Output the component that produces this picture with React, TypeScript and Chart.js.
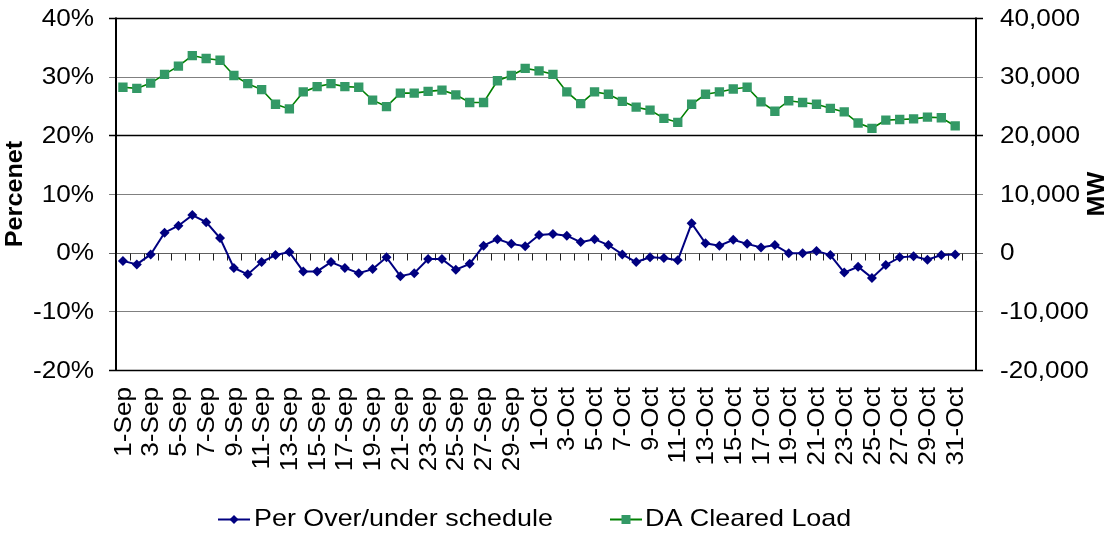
import React, { useEffect, useRef } from 'react';
import { Chart, registerables } from 'chart.js';

Chart.register(...registerables);

const categories = [
  '1-Sep', '2-Sep', '3-Sep', '4-Sep', '5-Sep', '6-Sep', '7-Sep', '8-Sep', '9-Sep', '10-Sep',
  '11-Sep', '12-Sep', '13-Sep', '14-Sep', '15-Sep', '16-Sep', '17-Sep', '18-Sep', '19-Sep', '20-Sep',
  '21-Sep', '22-Sep', '23-Sep', '24-Sep', '25-Sep', '26-Sep', '27-Sep', '28-Sep', '29-Sep', '30-Sep',
  '1-Oct', '2-Oct', '3-Oct', '4-Oct', '5-Oct', '6-Oct', '7-Oct', '8-Oct', '9-Oct', '10-Oct',
  '11-Oct', '12-Oct', '13-Oct', '14-Oct', '15-Oct', '16-Oct', '17-Oct', '18-Oct', '19-Oct', '20-Oct',
  '21-Oct', '22-Oct', '23-Oct', '24-Oct', '25-Oct', '26-Oct', '27-Oct', '28-Oct', '29-Oct', '30-Oct',
  '31-Oct', '1-Nov',
];

const overUnderPct = [
  -1.4, -2.0, -0.3, 3.4, 4.6, 6.4, 5.2, 2.5, -2.6, -3.7,
  -1.6, -0.4, 0.1, -3.2, -3.2, -1.6, -2.6, -3.5, -2.8, -0.8,
  -4.0, -3.5, -1.1, -1.1, -2.9, -1.9, 1.2, 2.3, 1.5, 1.1,
  3.0, 3.2, 2.9, 1.8, 2.3, 1.3, -0.3, -1.6, -0.8, -0.9,
  -1.3, 5.0, 1.6, 1.2, 2.2, 1.5, 0.9, 1.3, -0.1, -0.1,
  0.3, -0.4, -3.4, -2.4, -4.3, -2.1, -0.8, -0.6, -1.2, -0.4,
  -0.3, null,
];

const daClearedLoadMW = [
  28200, 28000, 28900, 30400, 31800, 33600, 33100, 32800, 30200, 28800,
  27800, 25300, 24500, 27400, 28300, 28800, 28300, 28200, 26000, 24900,
  27200, 27200, 27500, 27700, 26900, 25600, 25600, 29300, 30200, 31400,
  31000, 30400, 27400, 25400, 27400, 27000, 25800, 24800, 24300, 22900,
  22200, 25300, 27000, 27400, 27900, 28200, 25700, 24100, 25900, 25600,
  25300, 24600, 24000, 22100, 21200, 22600, 22700, 22800, 23100, 23000,
  21600, null,
];

const pctTicks = [40, 30, 20, 10, 0, -10, -20];
const mwTicks = [40000, 30000, 20000, 10000, 0, -10000, -20000];
const seriesNames = ['Per Over/under schedule', 'DA Cleared Load'];
const leftTitle = 'Percenet';
const rightTitle = 'MW';

const FONT = '"Liberation Sans", Arial, sans-serif';
const SX = 1.09;
const SXB = 1.05;
const SXL = 1.12;
const BLUE = '#000080';
const GREEN_LINE = '#008000';
const GREEN_FILL = '#339966';

function stretchText(
  ctx: CanvasRenderingContext2D,
  text: string,
  x: number,
  y: number,
  align: CanvasTextAlign,
  rot = 0,
  sx = SX,
) {
  ctx.save();
  ctx.translate(x, y);
  if (rot) ctx.rotate(rot);
  ctx.scale(sx, 1);
  ctx.textAlign = align;
  ctx.textBaseline = 'middle';
  ctx.fillText(text, 0, 0);
  ctx.restore();
}

function seg(ctx: CanvasRenderingContext2D, x1: number, y1: number, x2: number, y2: number) {
  ctx.beginPath();
  ctx.moveTo(x1, y1);
  ctx.lineTo(x2, y2);
  ctx.stroke();
}

const excelPlugin = {
  id: 'excelLook',
  beforeDatasetsDraw(chart: any) {
    const { ctx, chartArea: a, scales } = chart;
    const y = scales.y;
    ctx.save();
    pctTicks.forEach((v) => {
      const py = Math.round(y.getPixelForValue(v)) + 0.5;
      const dark = v === 20 || v === -20 || v === 40;
      ctx.strokeStyle = dark ? '#000000' : v === 0 ? '#606060' : '#808080';
      ctx.lineWidth = dark ? 1.4 : 1.2;
      seg(ctx, a.left - 7, py, a.right + 7, py);
    });
    ctx.strokeStyle = '#000000';
    ctx.lineWidth = 2;
    seg(ctx, a.left, a.top - 0.5, a.left, a.bottom + 1);
    seg(ctx, a.right, a.top - 0.5, a.right, a.bottom + 1);
    const y0 = Math.round(y.getPixelForValue(0)) + 0.5;
    const n = categories.length;
    const w = (a.right - a.left) / n;
    ctx.lineWidth = 1;
    ctx.strokeStyle = '#202020';
    for (let k = 0; k <= n; k++) {
      const xx = Math.round(a.left + k * w) + 0.5;
      seg(ctx, xx, y0, xx, y0 + 7);
    }
    ctx.restore();
  },
  afterDraw(chart: any) {
    const { ctx, chartArea: a, scales } = chart;
    const x = scales.x;
    const y = scales.y;
    const y1 = scales.y1;
    ctx.save();
    ctx.fillStyle = '#000000';
    ctx.font = `24px ${FONT}`;
    pctTicks.forEach((v) => {
      stretchText(ctx, `${v}%`, 94, y.getPixelForValue(v) + 1, 'right');
    });
    mwTicks.forEach((v) => {
      stretchText(ctx, v.toLocaleString('en-US'), 1000, y1.getPixelForValue(v) + 1, 'left');
    });
    categories.forEach((c, i) => {
      if (i % 2 !== 0) return;
      const px = x.getPixelForValue(i);
      stretchText(ctx, c, px + 1, a.bottom + 17, 'right', -Math.PI / 2);
    });
    ctx.font = `bold 24px ${FONT}`;
    const midY = (a.top + a.bottom) / 2;
    stretchText(ctx, leftTitle, 15, midY, 'center', -Math.PI / 2, SXB);
    stretchText(ctx, rightTitle, 1097, midY, 'center', -Math.PI / 2, SXB);
    const ly = 519.5;
    ctx.font = `24px ${FONT}`;
    ctx.strokeStyle = BLUE;
    ctx.lineWidth = 2;
    seg(ctx, 218, ly, 250, ly);
    ctx.fillStyle = BLUE;
    ctx.beginPath();
    ctx.moveTo(234, ly - 4.5);
    ctx.lineTo(238.5, ly);
    ctx.lineTo(234, ly + 4.5);
    ctx.lineTo(229.5, ly);
    ctx.closePath();
    ctx.fill();
    ctx.fillStyle = '#000000';
    stretchText(ctx, seriesNames[0], 254, ly, 'left', 0, SXL);
    ctx.strokeStyle = GREEN_LINE;
    ctx.lineWidth = 2;
    seg(ctx, 610, ly, 642, ly);
    ctx.fillStyle = GREEN_FILL;
    ctx.fillRect(621.5, ly - 4.5, 9, 9);
    ctx.fillStyle = '#000000';
    stretchText(ctx, seriesNames[1], 645, ly, 'left', 0, SXL);
    ctx.restore();
  },
};

export default function App() {
  const ref = useRef<HTMLCanvasElement | null>(null);
  useEffect(() => {
    document.body.style.margin = '0';
    const canvas = ref.current;
    if (!canvas) return;
    const chart = new Chart(canvas, {
      type: 'line',
      data: {
        labels: categories,
        datasets: [
          {
            label: seriesNames[0],
            data: overUnderPct,
            yAxisID: 'y',
            borderColor: BLUE,
            backgroundColor: BLUE,
            borderWidth: 2,
            pointStyle: 'rectRot',
            pointRadius: 5,
            pointBorderWidth: 0,
            pointBackgroundColor: BLUE,
            pointBorderColor: BLUE,
            tension: 0,
            fill: false,
          },
          {
            label: seriesNames[1],
            data: daClearedLoadMW,
            yAxisID: 'y1',
            borderColor: GREEN_LINE,
            backgroundColor: GREEN_FILL,
            borderWidth: 1.6,
            pointStyle: 'rect',
            pointRadius: 6.6,
            pointBorderWidth: 0,
            pointBackgroundColor: GREEN_FILL,
            pointBorderColor: GREEN_FILL,
            tension: 0,
            fill: false,
          },
        ],
      },
      options: {
        animation: false,
        responsive: false,
        devicePixelRatio: 1,
        layout: { padding: { left: 116, right: 132, top: 18, bottom: 164 } },
        scales: {
          x: { type: 'category', display: false, offset: true },
          y: { type: 'linear', display: false, position: 'left', min: -20, max: 40 },
          y1: { type: 'linear', display: false, position: 'right', min: -20000, max: 40000 },
        },
        plugins: {
          legend: { display: false },
          tooltip: { enabled: false },
        },
      },
      plugins: [excelPlugin],
    });
    return () => chart.destroy();
  }, []);
  return (
    <div style={{ position: 'absolute', left: 0, top: 0, width: 1108, height: 534, background: '#fff' }}>
      <canvas ref={ref} width={1108} height={534} style={{ display: 'block' }} />
    </div>
  );
}
